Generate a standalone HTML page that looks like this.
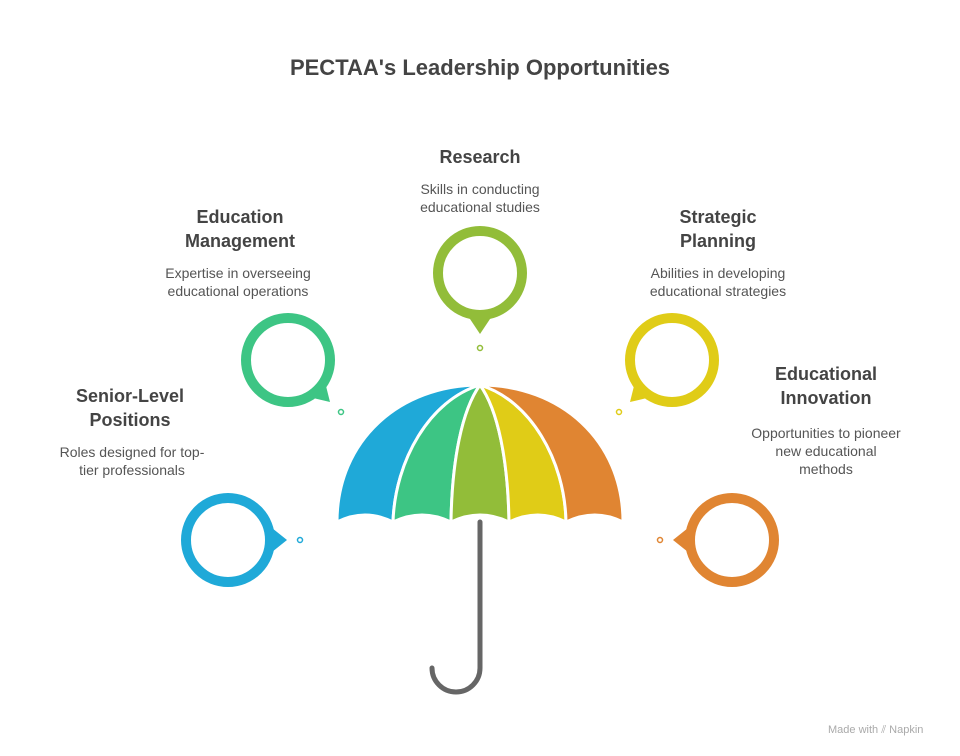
<!DOCTYPE html>
<html><head><meta charset="utf-8"><style>
html,body{margin:0;padding:0;background:#fff;}
body{width:960px;height:756px;position:relative;overflow:hidden;font-family:"Liberation Sans",Arial,sans-serif;}
svg{position:absolute;left:0;top:0;}
.t{font-family:"Liberation Sans",Arial,sans-serif;}
</style></head><body>
<svg width="960" height="756" viewBox="0 0 960 756">
<text class="t" x="480" y="75" text-anchor="middle" font-size="22" font-weight="bold" fill="#444">PECTAA's Leadership Opportunities</text>

<g stroke="#fff" stroke-width="3" stroke-linejoin="round">
<path d="M480,385 C400,385 337,440 337,522 Q365,508 393,522 C395,460 430,400 480,385Z" fill="#1fa9d8"/>
<path d="M480,385 C430,400 395,460 393,522 Q422,508 451,522 C452,460 462,410 480,385Z" fill="#3dc584"/>
<path d="M480,385 C462,410 452,460 451,522 Q480,508 509,522 C508,460 498,410 480,385Z" fill="#92bd39"/>
<path d="M480,385 C498,410 508,460 509,522 Q538,508 566,522 C565,460 530,400 480,385Z" fill="#e0cc17"/>
<path d="M480,385 C530,400 565,460 566,522 Q595,508 623,522 C623,440 560,385 480,385Z" fill="#e08532"/>
</g>
<path d="M480,522 V668 A24,24 0 0 1 432,668" fill="none" stroke="#666" stroke-width="5" stroke-linecap="round"/>

<g fill="none" stroke-width="10">
<circle cx="228" cy="540" r="42" stroke="#1fa9d8"/>
<circle cx="288" cy="360" r="42" stroke="#3dc584"/>
<circle cx="480" cy="273" r="42" stroke="#92bd39"/>
<circle cx="672" cy="360" r="42" stroke="#e0cc17"/>
<circle cx="732" cy="540" r="42" stroke="#e08532"/>
</g>
<polygon points="272,528 287,540 272,552" fill="#1fa9d8"/>
<polygon points="326,386 330,402 313,398" fill="#3dc584"/>
<polygon points="468,316 480,334 492,316" fill="#92bd39"/>
<polygon points="634,386 630,402 647,398" fill="#e0cc17"/>
<polygon points="688,528 673,540 688,552" fill="#e08532"/>
<circle cx="300" cy="540" r="2.5" fill="none" stroke="#1fa9d8" stroke-width="1.5"/>
<circle cx="341" cy="412" r="2.5" fill="none" stroke="#3dc584" stroke-width="1.5"/>
<circle cx="480" cy="348" r="2.5" fill="none" stroke="#92bd39" stroke-width="1.5"/>
<circle cx="619" cy="412" r="2.5" fill="none" stroke="#e0cc17" stroke-width="1.5"/>
<circle cx="660" cy="540" r="2.5" fill="none" stroke="#e08532" stroke-width="1.5"/>

<g class="t" text-anchor="middle">
<text x="480" y="163" font-size="18" font-weight="bold" fill="#444">Research</text>
<text x="480" y="194" font-size="14" fill="#555">Skills in conducting</text>
<text x="480" y="212" font-size="14" fill="#555">educational studies</text>

<text x="240" y="223" font-size="18" font-weight="bold" fill="#444">Education</text>
<text x="240" y="247" font-size="18" font-weight="bold" fill="#444">Management</text>
<text x="238" y="278" font-size="14" fill="#555">Expertise in overseeing</text>
<text x="238" y="296" font-size="14" fill="#555">educational operations</text>

<text x="718" y="223" font-size="18" font-weight="bold" fill="#444">Strategic</text>
<text x="718" y="247" font-size="18" font-weight="bold" fill="#444">Planning</text>
<text x="718" y="278" font-size="14" fill="#555">Abilities in developing</text>
<text x="718" y="296" font-size="14" fill="#555">educational strategies</text>

<text x="130" y="402" font-size="18" font-weight="bold" fill="#444">Senior-Level</text>
<text x="130" y="426" font-size="18" font-weight="bold" fill="#444">Positions</text>
<text x="132" y="457" font-size="14" fill="#555">Roles designed for top-</text>
<text x="132" y="475" font-size="14" fill="#555">tier professionals</text>

<text x="826" y="380" font-size="18" font-weight="bold" fill="#444">Educational</text>
<text x="826" y="404" font-size="18" font-weight="bold" fill="#444">Innovation</text>
<text x="826" y="438" font-size="14" fill="#555">Opportunities to pioneer</text>
<text x="826" y="456" font-size="14" fill="#555">new educational</text>
<text x="826" y="474" font-size="14" fill="#555">methods</text>
</g>
<text class="t" x="828" y="733" font-size="11" fill="#aaa">Made with ⫽ Napkin</text>
</svg>
</body></html>
